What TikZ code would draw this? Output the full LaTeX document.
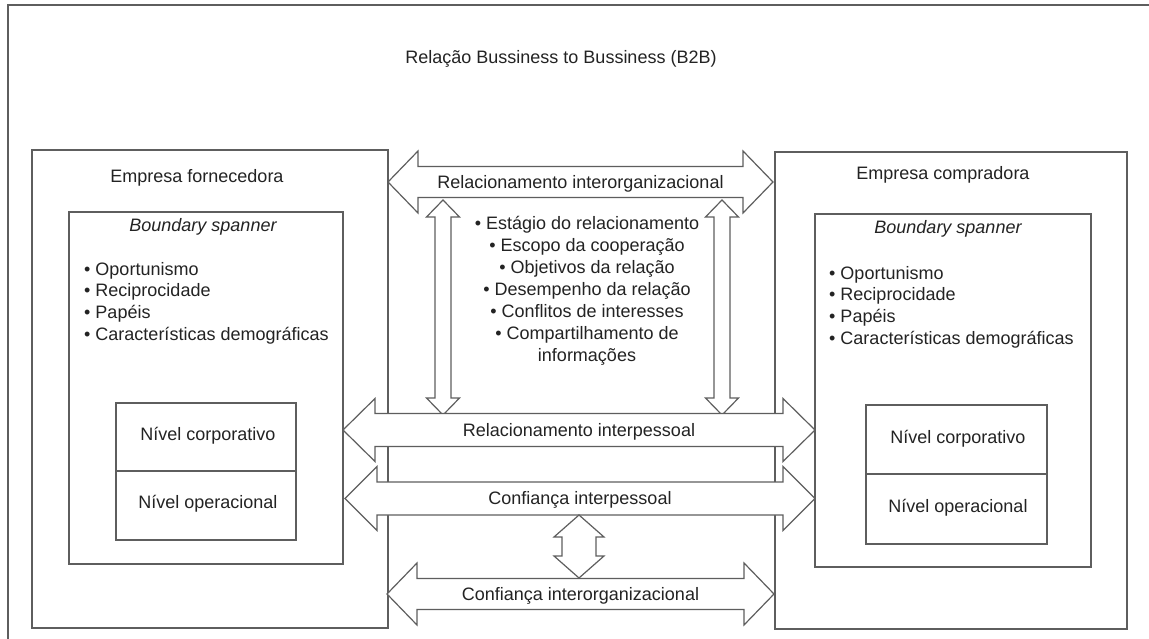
\documentclass[tikz,border=0pt]{standalone}
\usepackage{fontspec}
\setmainfont{Liberation Sans}
\usetikzlibrary{calc}
\definecolor{ln}{HTML}{5E5E5E}
\definecolor{tx}{HTML}{232323}
% horizontal double block arrow: name, x1, x2, yc, shaft half, head half, head length, label
\newcommand\hdblarrow[8]{%
  \draw[blockarrow] (#2,#4) -- (#2+#7,#4-#6) -- (#2+#7,#4-#5) -- (#3-#7,#4-#5)
    -- (#3-#7,#4-#6) -- (#3,#4) -- (#3-#7,#4+#6) -- (#3-#7,#4+#5)
    -- (#2+#7,#4+#5) -- (#2+#7,#4+#6) -- cycle;
  \node[lbl, anchor=base] (#1) at ({(#2+#3)/2},{#4+6.4}) {#8};}
% vertical double block arrow: name, xc, y1, y2, shaft half, head half, head length
\newcommand\vdblarrow[7]{%
  \draw[blockarrow] (#2,#3) -- (#2+#6,#3+#7) -- (#2+#5,#3+#7) -- (#2+#5,#4-#7)
    -- (#2+#6,#4-#7) -- (#2,#4) -- (#2-#6,#4-#7) -- (#2-#5,#4-#7)
    -- (#2-#5,#3+#7) -- (#2-#6,#3+#7) -- cycle;
  \coordinate (#1) at (#2,{(#3+#4)/2});}
\begin{document}
\begin{tikzpicture}[x=1pt,y=-1pt,
  frame/.style={draw=ln, line width=1.2pt},
  blockarrow/.style={draw=ln, line width=1.2pt, fill=white, line join=miter},
  lbl/.style={text=tx, inner sep=0pt, font=\fontsize{18}{21.7}\selectfont},
  listtxt/.style={lbl, align=left, anchor=north west},
  ctrtxt/.style={lbl, align=center, anchor=north, font=\fontsize{18}{22}\selectfont}]
\useasboundingbox[fill=white] (0,0) rectangle (1149,639);
% outer frame (continues beyond the picture)
\draw[frame] (8,639) -- (8,5) -- (1149,5);
\node[lbl, anchor=base] (title) at (561,63.5) {Relação Bussiness to Bussiness (B2B)};
% supplier company
\draw[frame] (32,150) rectangle (388,628);
\node[lbl, anchor=base] (forn) at (197,183) {Empresa fornecedora};
\draw[frame] (69,212) rectangle (343,564);
\node[lbl, anchor=base] (bsL) at (203,232) {\itshape Boundary spanner};
\node[listtxt] (listL) at (84,275-18) {\rule{0pt}{18pt}• Oportunismo\\• Reciprocidade\\• Papéis\\• Características demográficas};
\draw[frame] (116,403) rectangle (296,471);
\draw[frame] (116,471) rectangle (296,540);
\node[lbl, anchor=base] (corpL) at (208,440) {Nível corporativo};
\node[lbl, anchor=base] (operL) at (208,508) {Nível operacional};
% buyer company
\draw[frame] (775,152) rectangle (1127,629);
\node[lbl, anchor=base] (comp) at (943,180) {Empresa compradora};
\draw[frame] (815,214) rectangle (1091,567);
\node[lbl, anchor=base] (bsR) at (948,234) {\itshape Boundary spanner};
\node[listtxt] (listR) at (829,279-18) {\rule{0pt}{18pt}• Oportunismo\\• Reciprocidade\\• Papéis\\• Características demográficas};
\draw[frame] (866,405) rectangle (1047,474);
\draw[frame] (866,474) rectangle (1047,544);
\node[lbl, anchor=base] (corpR) at (958,443) {Nível corporativo};
\node[lbl, anchor=base] (operR) at (958,512) {Nível operacional};
% central list
\node[ctrtxt] (ctr) at (587,229-18) {\rule{0pt}{18pt}• Estágio do relacionamento\\• Escopo da cooperação\\• Objetivos da relação\\• Desempenho da relação\\• Conflitos de interesses\\• Compartilhamento de\\informações};
% arrows
\hdblarrow{relorg}{388}{773}{182}{15.5}{31}{30}{Relacionamento interorganizacional}
\vdblarrow{vL}{443}{200}{415}{8}{16.5}{17}
\vdblarrow{vR}{722}{200}{415}{8}{16.5}{17}
\hdblarrow{relpes}{343}{815}{430}{16.5}{31.5}{32}{Relacionamento interpessoal}
\hdblarrow{confpes}{345}{815}{498.5}{16.5}{32}{32}{Confiança interpessoal}
\vdblarrow{vC}{579}{515}{578}{17}{25}{22}
\hdblarrow{conforg}{387}{774}{594}{15.5}{31}{30}{Confiança interorganizacional}
\end{tikzpicture}
\end{document}
